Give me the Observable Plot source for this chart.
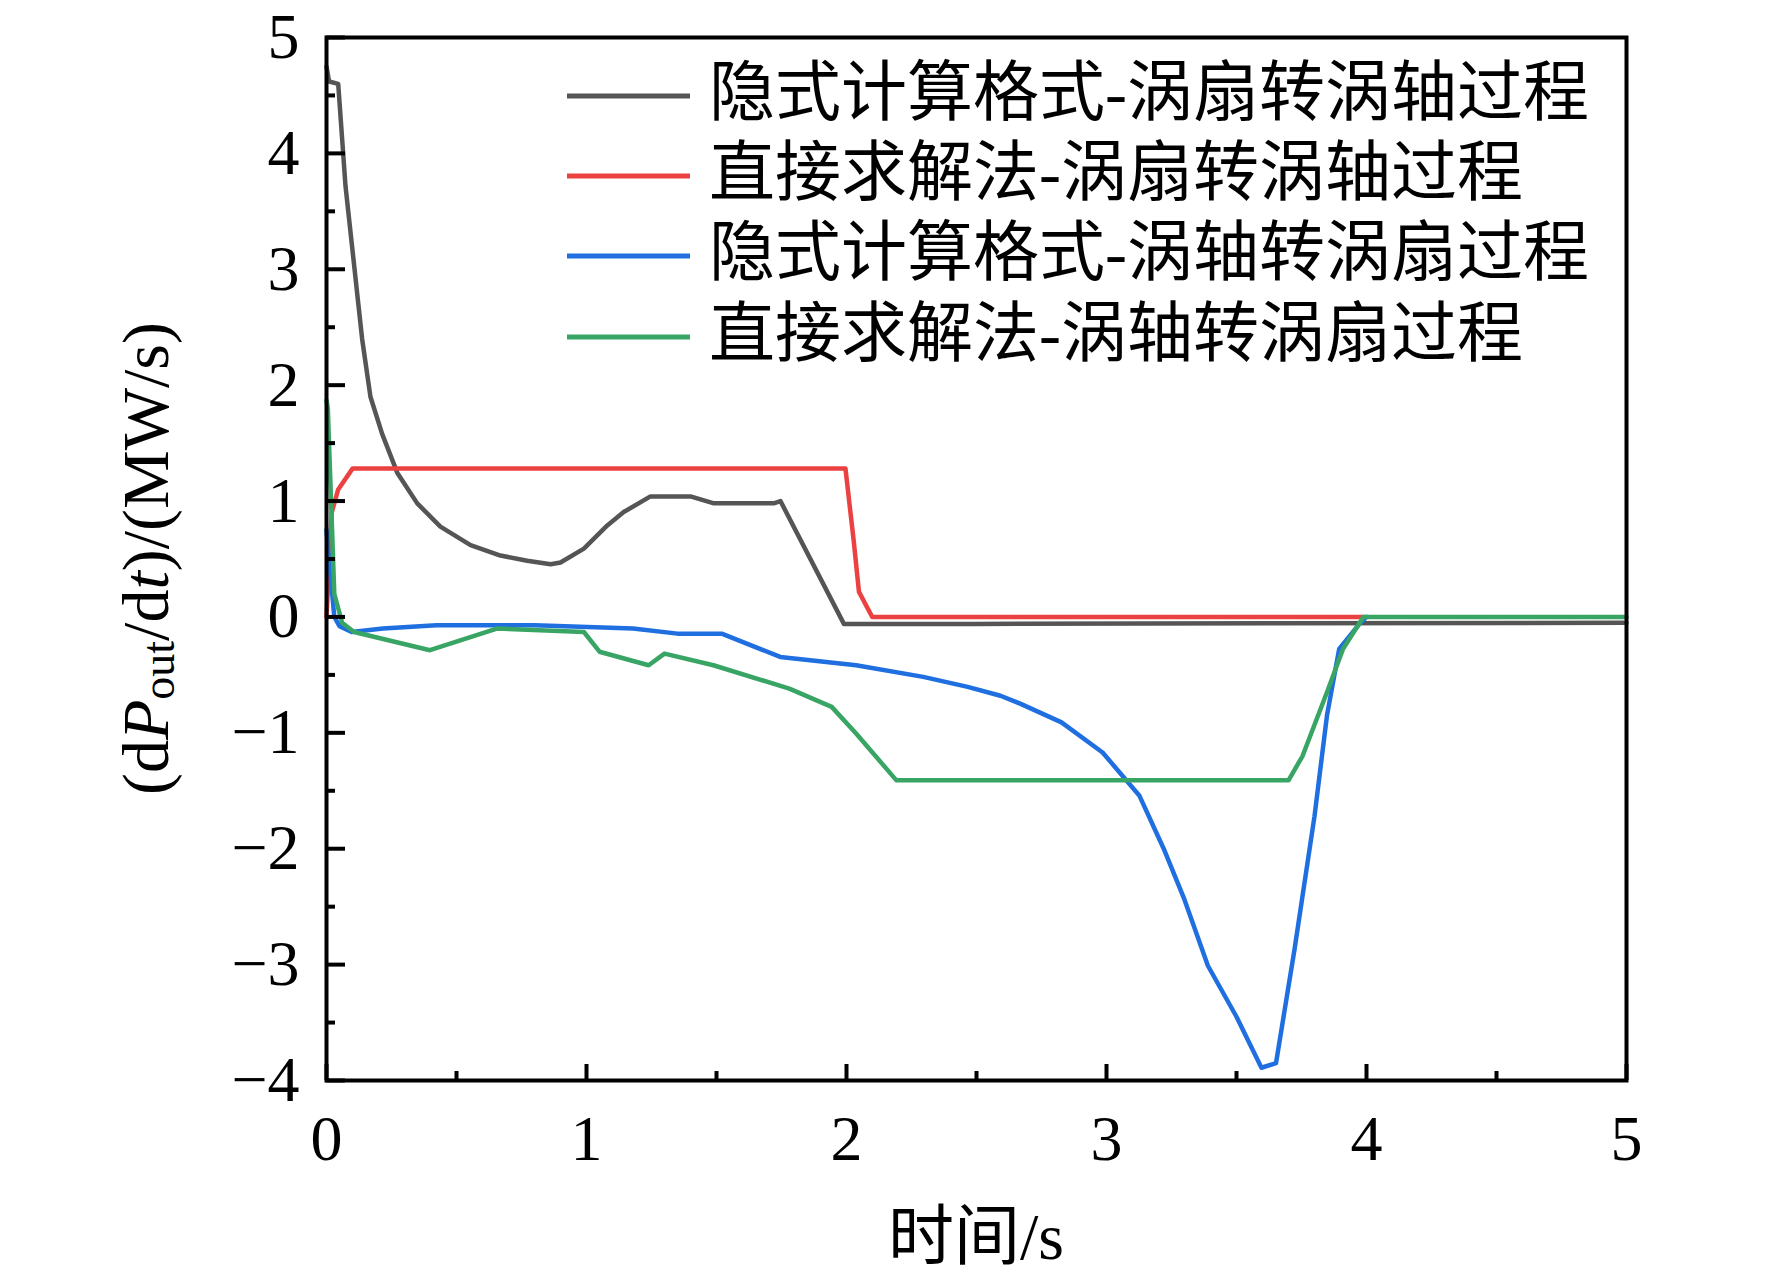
<!DOCTYPE html>
<html>
<head>
<meta charset="utf-8">
<script src="https://cdn.jsdelivr.net/npm/d3@7"></script>
<script src="https://cdn.jsdelivr.net/npm/@observablehq/plot@0.6"></script>
<style>
  html, body { margin: 0; padding: 0; background: #fff; }
  #chart svg { display: block; }
</style>
</head>
<body>
<div id="chart"></div>
<script>
// ---- Series names (legend) ----
const seriesNames = [
  "隐式计算格式-涡扇转涡轴过程",
  "直接求解法-涡扇转涡轴过程",
  "隐式计算格式-涡轴转涡扇过程",
  "直接求解法-涡轴转涡扇过程"
];
const seriesColors = ["#555555", "#eb4141", "#1f6fe0", "#38a565"];

// ---- Series 1: 隐式计算格式-涡扇转涡轴过程 ----
const grayT = [0, 0.01, 0.045, 0.073, 0.105, 0.12, 0.137, 0.169, 0.214, 0.272, 0.349, 0.438, 0.554, 0.669, 0.772, 0.862, 0.9, 0.99, 1.08, 1.143, 1.246, 1.40, 1.49, 1.72, 1.746, 1.99, 2.5, 5.0];
const grayV = [4.75, 4.62, 4.60, 3.72, 3.06, 2.75, 2.40, 1.90, 1.58, 1.245, 0.98, 0.78, 0.62, 0.53, 0.485, 0.455, 0.47, 0.59, 0.79, 0.905, 1.04, 1.04, 0.98, 0.98, 1.0, -0.06, -0.06, -0.05];

// ---- Series 2: 直接求解法-涡扇转涡轴过程 ----
const redT = [0, 0.02, 0.045, 0.1, 1.996, 2.028, 2.048, 2.099, 3.99];
const redV = [0, 0.9, 1.1, 1.28, 1.28, 0.65, 0.216, 0.0, 0.0];

// ---- Series 3: 隐式计算格式-涡轴转涡扇过程 ----
const blueT = [0, 0.03, 0.05, 0.097, 0.217, 0.423, 0.8, 1.179, 1.35, 1.52, 1.745, 2.037, 2.295, 2.466, 2.592, 2.67, 2.827, 2.985, 3.126, 3.22, 3.30, 3.39, 3.50, 3.596, 3.652, 3.723, 3.80, 3.848, 3.895, 3.973, 4.0];
const blueV = [0.75, 0.0, -0.08, -0.13, -0.10, -0.072, -0.072, -0.10, -0.144, -0.144, -0.345, -0.417, -0.517, -0.603, -0.68, -0.75, -0.91, -1.17, -1.54, -2.0, -2.44, -3.01, -3.45, -3.89, -3.85, -2.87, -1.72, -0.85, -0.275, -0.06, 0];

// ---- Series 4: 直接求解法-涡轴转涡扇过程 ----
const greenT = [0, 0.005, 0.03, 0.06, 0.106, 0.398, 0.655, 0.99, 1.05, 1.239, 1.30, 1.488, 1.78, 1.943, 2.037, 2.192, 3.70, 3.754, 3.848, 3.91, 3.988, 5.0];
const greenV = [1.87, 1.8, 0.2, -0.05, -0.13, -0.287, -0.10, -0.13, -0.30, -0.417, -0.316, -0.417, -0.618, -0.776, -1.006, -1.41, -1.41, -1.2, -0.65, -0.275, 0, 0];

// ---- Axes ----
const xMajorTicks = [0, 1, 2, 3, 4, 5];
const xMinorTicks = [0.5, 1.5, 2.5, 3.5, 4.5];
const yMajorTicks = [-4, -3, -2, -1, 0, 1, 2, 3, 4, 5];
const yMinorTicks = [-3.5, -2.5, -1.5, -0.5, 0.5, 1.5, 2.5, 3.5, 4.5];
const xTitle = "时间/s";

// Build table
const seriesT = [grayT, redT, blueT, greenT];
const seriesV = [grayV, redV, blueV, greenV];
const data = [];
seriesNames.forEach((name, i) => {
  seriesT[i].forEach((t, j) => data.push({series: name, t, v: seriesV[i][j]}));
});

const fmt = d => (d < 0 ? "\u2212" + (-d) : String(d));
const FONT = "'Liberation Serif', 'Times New Roman', 'Noto Sans CJK SC', serif";

const W = 1772, H = 1280;
const mL = 326, mR = 146, mT = 37, mB = 200;

const plot = Plot.plot({
  width: W,
  height: H,
  marginLeft: mL,
  marginRight: mR,
  marginTop: mT,
  marginBottom: mB,
  style: {fontFamily: FONT, fontSize: "64px", color: "#000", background: "#fff", overflow: "visible"},
  x: {domain: [0, 5]},
  y: {domain: [-4, 5]},
  color: {domain: seriesNames, range: seriesColors},
  marks: [
    Plot.line(data, {x: "t", y: "v", z: "series", stroke: "series", strokeWidth: 4.5, strokeLinejoin: "round"}),
    Plot.axisX(xMajorTicks, {tickSize: -16, tickPadding: 50, tickFormat: fmt, strokeWidth: 4, fontSize: 64, label: null}),
    Plot.axisX(xMinorTicks, {tickSize: -9, tickFormat: () => "", strokeWidth: 4, label: null}),
    Plot.axisY(yMajorTicks, {tickSize: -19, tickPadding: 46, tickFormat: fmt, strokeWidth: 4, fontSize: 64, label: null}),
    Plot.axisY(yMinorTicks, {tickSize: -9, tickFormat: () => "", strokeWidth: 4, label: null}),
    Plot.frame({stroke: "#000", strokeWidth: 4})
  ]
});

document.getElementById("chart").appendChild(plot);

const svg = d3.select(plot);

// Y-axis title with italic and subscript
const yTitle = svg.append("text")
  .attr("transform", `translate(168, ${(mT + (H - mB)) / 2}) rotate(-90)`)
  .attr("text-anchor", "middle")
  .attr("font-family", FONT)
  .attr("font-size", 66)
  .attr("fill", "#000");
yTitle.append("tspan").text("(d");
yTitle.append("tspan").attr("font-style", "italic").text("P");
yTitle.append("tspan").attr("font-size", 46).attr("dy", 6).text("out");
yTitle.append("tspan").attr("dy", -6).text("/d");
yTitle.append("tspan").attr("font-style", "italic").text("t");
yTitle.append("tspan").text(")/(MW/s)");

// X-axis title
svg.append("text")
  .attr("x", (mL + (W - mR)) / 2)
  .attr("y", 1236)
  .attr("text-anchor", "middle")
  .attr("dominant-baseline", "central")
  .attr("font-family", FONT)
  .attr("font-size", 66)
  .attr("fill", "#000")
  .text(xTitle);

// Legend inside plot area (top right)
const legendRowsY = [96, 176, 256, 337];
const lg = svg.append("g").attr("class", "legend");
seriesNames.forEach((name, i) => {
  const y = legendRowsY[i];
  lg.append("line")
    .attr("x1", 567).attr("x2", 690)
    .attr("y1", y).attr("y2", y)
    .attr("stroke", seriesColors[i])
    .attr("stroke-width", 5);
  lg.append("text")
    .attr("x", 709)
    .attr("y", y - 4)
    .attr("text-anchor", "start")
    .attr("dominant-baseline", "central")
    .attr("font-family", FONT)
    .attr("font-size", 66)
    .attr("fill", "#000")
    .text(name);
});
</script>
</body>
</html>
